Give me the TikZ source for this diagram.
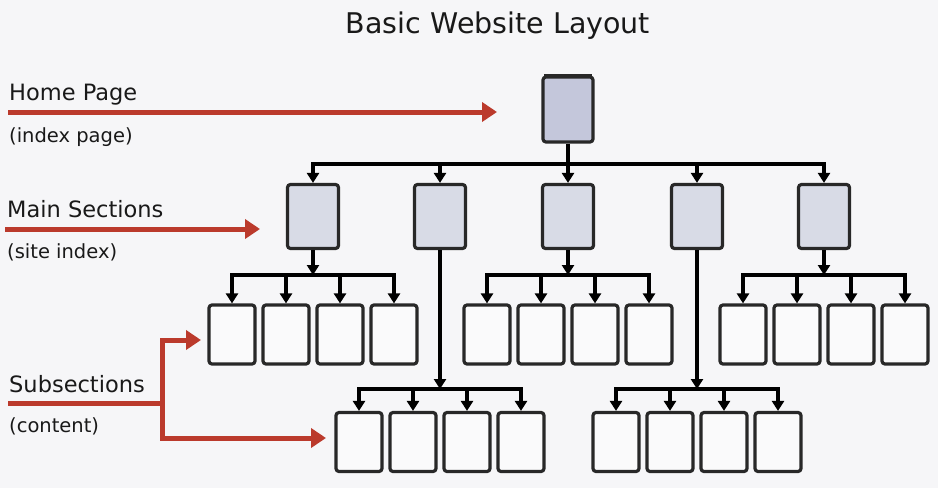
\documentclass[tikz,border=0pt]{standalone}
\usepackage{fontspec}
\setmainfont{DejaVu Sans}
\usetikzlibrary{arrows.meta}
\definecolor{bgc}{RGB}{246,246,248}
\definecolor{homefill}{RGB}{196,199,219}
\definecolor{mainfill}{RGB}{216,219,230}
\definecolor{subfill}{RGB}{250,250,251}
\definecolor{edgec}{RGB}{40,40,40}
\definecolor{redc}{RGB}{187,58,44}
\definecolor{txtc}{RGB}{25,25,25}
\tikzset{
  pagebox/.style={draw=edgec, line width=3.2pt, rounded corners=3pt, inner sep=0pt},
  homebox/.style={pagebox, fill=homefill, minimum width=50pt, minimum height=65pt},
  mainbox/.style={pagebox, fill=mainfill, minimum width=51pt, minimum height=64pt},
  subbox/.style={pagebox, fill=subfill, minimum width=46pt, minimum height=59pt},
  conn/.style={draw=black, line width=3.6pt},
  arr/.style={conn, -{Triangle[width=12pt,length=10pt]}},
  redline/.style={draw=redc, line width=5pt},
  redarr/.style={redline, -{Triangle[width=19pt,length=15pt]}},
  bigtxt/.style={text=txtc, font=\fontsize{22.5}{27}\selectfont, inner sep=0pt, anchor=base west},
  smalltxt/.style={text=txtc, font=\fontsize{19.5}{23}\selectfont, inner sep=0pt, anchor=base west},
}
\begin{document}
\begin{tikzpicture}[x=1pt, y=-1pt]
\fill[bgc] (0,0) rectangle (938,488);
\useasboundingbox (0,0) rectangle (938,488);

% title
\node[text=txtc, font=\fontsize{28.5}{34}\selectfont, inner sep=0pt, anchor=base] (title) at (498,33) {Basic Website Layout};

% bus coordinates
\coordinate (busA) at (0,164);
\coordinate (busB) at (0,275);
\coordinate (busC) at (0,389);

% home page
\node[homebox] (home) at (568,109.5) {};
\draw[edgec, line width=4pt] ([xshift=3pt,yshift=-0.5pt]home.north west) -- ([xshift=-3pt,yshift=-0.5pt]home.north east);

% main sections
\foreach \i/\x in {1/313, 2/440, 3/568, 4/697, 5/824} {
  \node[mainbox] (m\i) at (\x,216.5) {};
}
\draw[conn] (home.south) -- (home.south |- busA);
\foreach \i in {1,...,5} {
  \draw[arr] (home.south |- busA) -| (m\i.north);
}

% first row of subsections (under m1, m3, m5)
\foreach \g in {1,3,5} {
  \foreach \j/\dx in {1/-81, 2/-27, 3/27, 4/81} {
    \node[subbox] (s\g\j) at ([xshift=\dx pt]m\g.center |- 0,334.5) {};
  }
  \draw[arr] (m\g.south) -- (m\g.south |- busB);
  \foreach \j in {1,...,4} {
    \draw[arr] (m\g.south |- busB) -| (s\g\j.north);
  }
}

% second row of subsections (under m2, m4)
\foreach \g in {2,4} {
  \foreach \j/\dx in {1/-81, 2/-27, 3/27, 4/81} {
    \node[subbox] (t\g\j) at ([xshift=\dx pt]m\g.center |- 0,442) {};
  }
  \draw[arr] (m\g.south) -- (m\g.south |- busC);
  \foreach \j in {1,...,4} {
    \draw[arr] (m\g.south |- busC) -| (t\g\j.north);
  }
}

% left labels
\node[bigtxt] (lhome) at (9,100) {Home Page};
\node[smalltxt] (lhomesub) at (9,142) {(index page)};
\node[bigtxt] (lmain) at (7,217) {Main Sections};
\node[smalltxt] (lmainsub) at (7,258) {(site index)};
\node[bigtxt] (lsub) at (9,392) {Subsections};
\node[smalltxt] (lsubsub) at (9,432) {(content)};

% red pointer arrows
\coordinate (hstart) at (8,112);
\coordinate (hend) at (497,112);
\draw[redarr] (hstart) -- (hend);
\coordinate (mstart) at (5,229);
\coordinate (mend) at (260,229);
\draw[redarr] (mstart) -- (mend);
\coordinate (sstart) at (8,403);
\coordinate (branch) at (162,403);
\coordinate (supper) at (201,340);
\coordinate (slower) at (326,438);
\draw[redline] (sstart) -- (branch);
\draw[redarr] ([yshift=-2.5pt]branch) |- (supper);
\draw[redarr] ([yshift=2.5pt]branch) |- (slower);
\end{tikzpicture}
\end{document}
